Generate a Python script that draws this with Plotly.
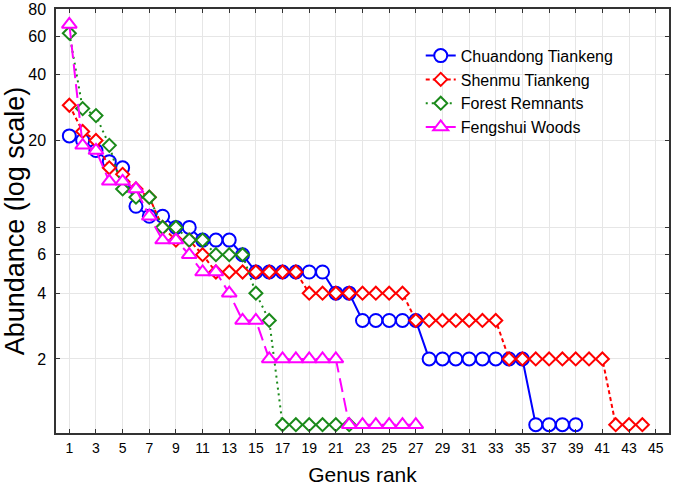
import numpy as np
import plotly.graph_objects as go

chuandong = [21, 20, 18, 16, 15, 10, 9, 9, 8, 8, 7, 7, 7, 6, 5, 5, 5, 5, 5, 5, 4, 4,
             3, 3, 3, 3, 3, 2, 2, 2, 2, 2, 2, 2, 2, 1, 1, 1, 1]
shenmu = [29, 22, 20, 15, 14, 12, 11, 8, 7, 7, 6, 5, 5, 5, 5, 5, 5, 5, 4, 4, 4, 4, 4, 4,
          4, 4, 3, 3, 3, 3, 3, 3, 3, 2, 2, 2, 2, 2, 2, 2, 2, 1, 1, 1]
forest = [62, 28, 26, 19, 12, 11, 11, 8, 8, 7, 7, 6, 6, 6, 4, 3, 1, 1, 1, 1, 1, 1]
fengshui = [68, 19, 18, 13, 13, 12, 9, 7, 7, 6, 5, 5, 4, 3, 3, 2, 2, 2, 2, 2, 2,
            1, 1, 1, 1, 1, 1]

series_names = ["Chuandong Tiankeng", "Shenmu Tiankeng", "Forest Remnants", "Fengshui Woods"]
x_ticks = list(range(1, 46, 2))
y_ticks = [2, 4, 6, 8, 20, 40, 60, 80]

styles = [
    dict(color="#0000ff", symbol="circle", size=13, dash="solid"),
    dict(color="#ff0000", symbol="diamond", size=10, dash="4px,3px"),
    dict(color="#1a8a1a", symbol="diamond", size=10, dash="2px,4px"),
    dict(color="#ff00ff", symbol="triangle-up", size=13, dash="14px,6px"),
]

fig = go.Figure()
for name, vals, st in zip(series_names, [chuandong, shenmu, forest, fengshui], styles):
    fig.add_trace(go.Scatter(
        x=list(range(1, len(vals) + 1)), y=vals, name=name, mode="lines+markers",
        line=dict(color=st["color"], width=2, dash=st["dash"]),
        marker=dict(symbol=st["symbol"], size=st["size"], color="white",
                    line=dict(color=st["color"], width=2)),
    ))

axis_common = dict(showline=True, linecolor="#333333", linewidth=1.5, mirror="ticks",
                   ticks="inside", ticklen=4, tickcolor="#333333", automargin=False,
                   showgrid=True, gridcolor="#e6e6e6", gridwidth=1, zeroline=False)

fig.update_layout(
    width=675, height=494,
    margin=dict(l=56, r=6, t=9, b=61),
    paper_bgcolor="white", plot_bgcolor="white",
    font=dict(family="Liberation Sans, Arial, sans-serif", color="black"),
    xaxis=dict(range=[0, 46], tickvals=x_ticks, tickfont=dict(size=14),
               ticklabelstandoff=1,
               title=dict(text="Genus rank", font=dict(size=21), standoff=13),
               **axis_common),
    yaxis=dict(type="log", range=[np.log10(0.916), np.log10(80)], tickvals=y_ticks,
               ticktext=[str(v) for v in y_ticks], tickfont=dict(size=16),
               ticklabelstandoff=5,
               title=dict(text="Abundance (log scale)", font=dict(size=27), standoff=2),
               **axis_common),
    legend=dict(x=0.595, y=0.93, xanchor="left", yanchor="top",
                bgcolor="rgba(255,255,255,0)", font=dict(size=16),
                tracegroupgap=2, itemwidth=30),
    showlegend=True,
)

fig.write_html("out.html", config={"displayModeBar": False},
               post_script="document.body.style.margin='0';")
